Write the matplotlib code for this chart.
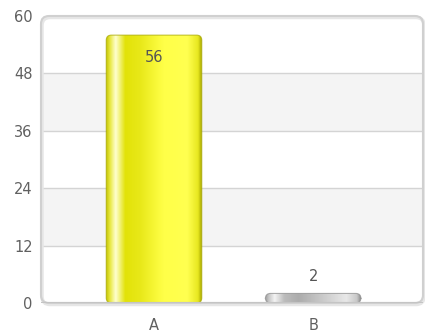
import matplotlib.pyplot as plt
import numpy as np
from matplotlib.patches import FancyBboxPatch
from matplotlib.colors import LinearSegmentedColormap
import matplotlib.transforms as mtransforms

categories = ["A", "B"]
values = [56, 2]
yticks = [0, 12, 24, 36, 48, 60]

# horizontal shading across each bar (left edge -> right edge)
stops = [0.0, 0.04, 0.1, 0.2, 0.35, 0.6, 0.85, 0.96, 1.0]
bar_colors = [
    ["#c4c400", "#e8e840", "#ffffd0", "#e2e208", "#e8e818", "#ffff48", "#ffff50", "#e8e820", "#a8a800"],
    ["#9c9c9c", "#c8c8c8", "#f4f4f4", "#bcbcbc", "#acacac", "#cacaca", "#e8e8e8", "#c8c8c8", "#8c8c8c"],
]

fig = plt.figure(figsize=(4.25, 3.34), dpi=100)
ax = fig.add_axes([41 / 425, 31 / 334, 382 / 425, 287 / 334])

ax.set_xlim(-0.71, 1.69)
ax.set_ylim(0, 60)

# alternating bands
for i in range(len(yticks) - 1):
    if i % 2 == 1:
        ax.axhspan(yticks[i], yticks[i + 1], color="#f4f4f4", zorder=0, lw=0)
for t in yticks[1:-1]:
    ax.axhline(t, color="#d4d4d4", lw=1, zorder=1)

w = 0.6
r = 0.032
asp = (60 / 287) / (2.4 / 382)
grad = np.linspace(0, 1, 256).reshape(1, -1)
for i, (cat, v) in enumerate(zip(categories, values)):
    cmap = LinearSegmentedColormap.from_list(cat, list(zip(stops, bar_colors[i])))
    x0 = i - w / 2
    box = dict(boxstyle=f"round,pad=0,rounding_size={r}", mutation_aspect=asp)
    patch = FancyBboxPatch((x0, 0), w, v, facecolor="none", edgecolor="none",
                           zorder=2, **box)
    ax.add_patch(patch)
    im = ax.imshow(grad, cmap=cmap, aspect="auto", extent=(x0, x0 + w, 0, v),
                   zorder=2, interpolation="bilinear")
    im.set_clip_path(patch)
    edge = FancyBboxPatch((x0, 0), w, v, facecolor="none",
                          edgecolor=bar_colors[i][-1], lw=0.8, alpha=0.7,
                          zorder=3, **box)
    ax.add_patch(edge)
    if v > 10:
        ax.text(i, v - 4.6, str(v), ha="center", va="center", fontsize=10.5,
                color="#555555", zorder=4)
    else:
        ax.text(i, v + 3.6, str(v), ha="center", va="center", fontsize=10.5,
                color="#555555", zorder=4)

ax.set_xticks(range(len(categories)))
ax.set_xticklabels(categories)
ax.set_yticks(yticks)
ax.tick_params(length=0, labelsize=10.5, labelcolor="#606060")
ax.tick_params(axis="x", pad=11)
ax.tick_params(axis="y", pad=6)
for s in ax.spines.values():
    s.set_visible(False)

# rounded frame around the plot area, with a soft shadow
fr = 8 / 382
fasp = 382 / 287
shadow_tr = ax.transAxes + mtransforms.ScaledTranslation(1 / 100, -1.5 / 100, fig.dpi_scale_trans)
shadow = FancyBboxPatch((0, 0), 1, 1, boxstyle=f"round,pad=0,rounding_size={fr}",
                        mutation_aspect=fasp, transform=shadow_tr, facecolor="none",
                        edgecolor="#e6e6e6", lw=2.5, zorder=4, clip_on=False)
ax.add_patch(shadow)
frame = FancyBboxPatch((0, 0), 1, 1, boxstyle=f"round,pad=0,rounding_size={fr}",
                       mutation_aspect=fasp, transform=ax.transAxes, facecolor="none",
                       edgecolor="#d0d0d0", lw=1.5, zorder=5, clip_on=False)
ax.add_patch(frame)
ax.axhline(0, color="#c4c4c4", lw=1.5, zorder=5)

fig.savefig("out.png")
